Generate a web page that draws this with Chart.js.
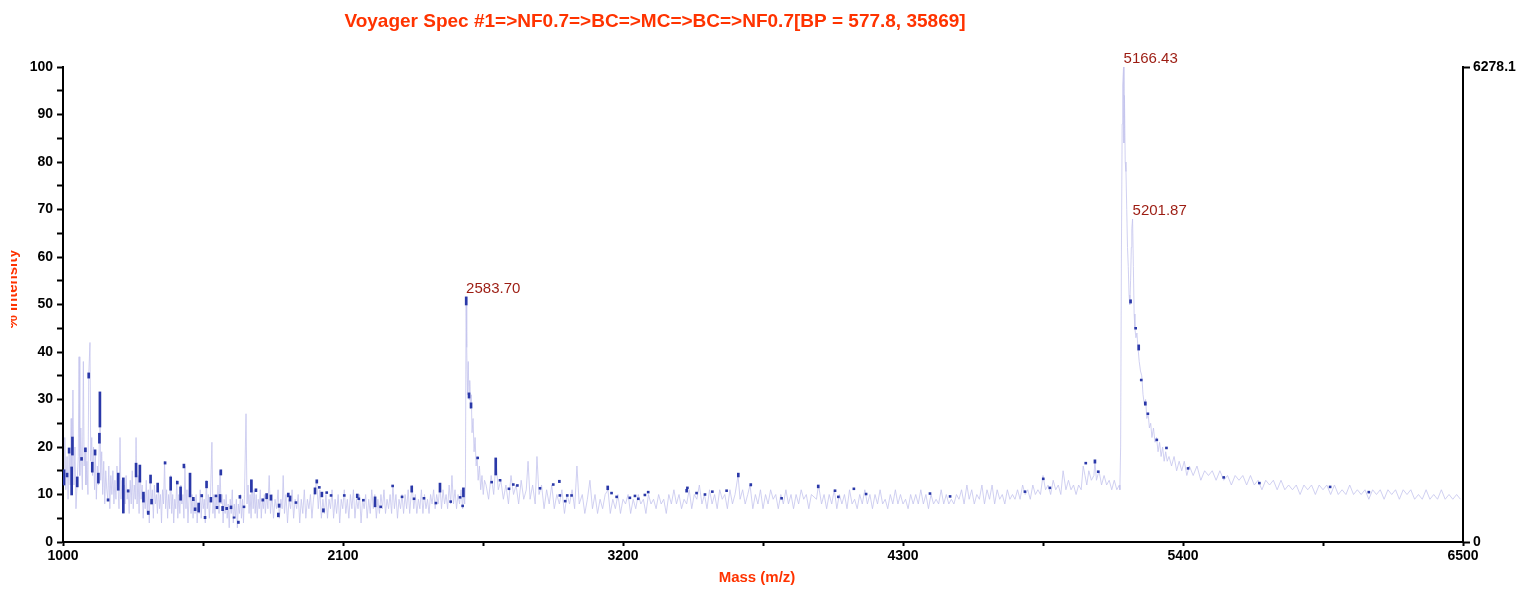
<!DOCTYPE html>
<html><head><meta charset="utf-8">
<script src="https://cdn.jsdelivr.net/npm/chart.js@4.4.1/dist/chart.umd.min.js"></script>
<style>html,body{margin:0;padding:0;background:#fff;}canvas{display:block;}</style>
</head><body>
<canvas id="c" width="1523" height="590"></canvas>
<script>
const chartTitle = 'Voyager Spec #1=>NF0.7=>BC=>MC=>BC=>NF0.7[BP = 577.8, 35869]';
const xTitle = 'Mass (m/z)';
const yTitle = '% Intensity';
const xTickValues = [1000,1550,2100,2650,3200,3750,4300,4850,5400,5950,6500];
const xLabelValues = [1000,2100,3200,4300,5400,6500];
const yTickValues = [0,5,10,15,20,25,30,35,40,45,50,55,60,65,70,75,80,85,90,95,100];
const yLabelValues = [0,10,20,30,40,50,60,70,80,90,100];
const rightTickValues = [0, 6278.1];
const rightTickLabels = ['0', '6278.1'];
const peakMasses = [2583.70, 5166.43, 5201.87];
const peakIntensities = [51.6, 100, 68];
const peakLabels = ['2583.70', '5166.43', '5201.87'];

// profile spectrum [mass, % intensity]
const spectrumLow = [
[1000,15],[1004,13],[1007,22],[1011,11],[1016,18],[1020,9],[1024,19],[1028,12],[1032,26],[1035,14],[1039,32],[1043,12],[1047,20],[1051,7],[1056,13],[1060,18],[1063,39],[1066,14],[1070,24],[1073,17],[1076,11],[1080,38],[1083,16],[1087,20],[1090,12],[1094,17],[1098,10],[1101,35],[1106,42],[1109,17],[1113,22],[1116,14],[1120,20],[1124,11],[1127,19],[1131,9],[1135,16],[1139,12],[1143,22],[1145,31],[1148,13],[1152,19],[1156,10],[1160,17],[1164,8],[1168,15],[1172,11],[1176,9],[1180,16],[1184,7],[1188,14],[1192,10],[1196,15],[1200,8],[1204,13],[1208,9],[1212,16],[1216,12],[1220,7],[1224,22],[1228,9],[1232,13],[1236,6],[1240,12],[1244,8],[1248,14],[1252,9],[1256,11],[1260,6],[1264,13],[1268,8],[1272,15],[1276,7],[1280,12],[1284,9],[1287,22],[1291,8],[1295,14],[1299,6],[1303,16],[1307,9],[1311,12],[1315,5],[1319,10],[1323,7],[1327,13],[1331,6],[1335,11],[1339,4],[1343,14],[1347,8],[1351,11],[1355,5],[1359,12],[1363,8],[1367,10],[1371,6],[1375,12],[1379,7],[1383,10],[1387,4],[1391,11],[1395,8],[1399,17],[1403,7],[1407,11],[1411,5],[1415,10],[1419,7],[1423,14],[1427,6],[1431,10],[1435,4],[1439,9],[1443,7],[1447,13],[1451,5],[1455,10],[1459,6],[1463,12],[1467,8],[1471,10],[1475,5],[1479,16],[1483,7],[1487,11],[1491,4],[1495,9],[1499,14],[1503,6],[1507,10],[1511,5],[1515,9],[1519,6],[1523,10],[1527,4],[1531,8],[1535,6],[1539,11],[1543,5],[1547,10],[1551,7],[1555,9],[1559,4],[1563,13],[1567,7],[1571,10],[1575,5],[1579,9],[1585,21],[1589,6],[1593,10],[1597,5],[1601,10],[1605,7],[1609,12],[1613,6],[1617,15],[1621,8],[1625,10],[1629,4],[1633,9],[1637,6],[1641,10],[1645,5],[1649,8],[1653,3],[1657,9],[1661,6],[1665,11],[1669,4],[1673,8],[1677,5],[1681,9],[1685,3],[1689,8],[1693,6],[1697,10],[1701,5],[1705,9],[1709,4],[1713,10],[1719,27],[1723,8],[1727,12],[1731,6],[1735,10],[1739,5],[1743,13],[1747,7],[1751,11],[1755,6],[1759,10],[1763,5],[1767,9],[1771,7],[1775,11],[1779,5],[1783,9],[1787,7],[1791,10],[1795,6],[1800,10]
];
const spectrumMid = [
[1805,7],[1810,14],[1815,6],[1821,10],[1827,5],[1833,9],[1839,7],[1845,11],[1850,5],[1856,9],[1861,7],[1865,14],[1870,6],[1876,10],[1882,4],[1888,9],[1894,7],[1900,11],[1906,5],[1912,9],[1918,7],[1924,10],[1930,4],[1936,9],[1942,6],[1948,11],[1954,5],[1960,9],[1966,7],[1972,10],[1978,5],[1984,9],[1990,11],[1997,13],[2003,7],[2009,11],[2015,5],[2021,9],[2027,6],[2033,10],[2039,5],[2045,9],[2051,7],[2057,11],[2063,5],[2069,9],[2075,6],[2081,10],[2087,4],[2093,9],[2099,7],[2105,11],[2111,6],[2117,9],[2123,5],[2129,10],[2135,7],[2141,11],[2147,5],[2153,9],[2159,7],[2165,10],[2171,4],[2177,9],[2183,7],[2189,10],[2195,5],[2201,9],[2207,6],[2213,11],[2219,7],[2225,10],[2231,5],[2237,9],[2243,6],[2249,10],[2255,7],[2261,11],[2267,6],[2273,9],[2279,7],[2285,10],[2291,6],[2296,12],[2302,7],[2308,10],[2314,5],[2320,9],[2326,7],[2332,10],[2338,6],[2344,10],[2350,7],[2356,11],[2362,6],[2368,10],[2372,12],[2378,7],[2384,10],[2390,6],[2396,9],[2402,7],[2408,11],[2414,6],[2420,10],[2426,7],[2432,9],[2438,6],[2444,10],[2450,8],[2456,11],[2462,7],[2468,10],[2474,8],[2481,12],[2487,7],[2493,11],[2499,8],[2505,10],[2511,7],[2517,12],[2523,8],[2528,14],[2534,8],[2540,11],[2546,7],[2552,10],[2558,8],[2564,11],[2570,7],[2574,11],[2578,8],
[2581,12],[2583.7,51.6],[2586,41],[2589,31],[2592,38],[2595,30],[2598,34],[2601,28],[2604,31],[2607,23],[2611,26],[2615,19],[2619,22],[2623,16],[2627,18],[2631,13],[2636,16],[2641,11],[2646,14],[2651,10],[2656,13],
[2662,12],[2672,9],[2682,14],[2692,10],[2701,17],[2710,11],[2720,13],[2730,9],[2740,12],[2750,8],[2760,14],[2770,10],[2780,12],[2790,8],[2800,13],[2810,9],[2820,11],[2827,17],[2835,9],[2845,12],[2855,8],[2862,18],[2870,10],[2880,12],[2890,7],[2900,11],[2910,8],[2920,12],[2930,7],[2940,10],[2950,8],[2960,11],[2970,6],[2980,10],[2990,8],[3000,11],[3010,7],[3019,16],[3028,8],[3040,10],[3050,6],[3060,9],[3070,13],[3080,7],[3090,10],[3100,6],[3110,9],[3120,7],[3130,10],[3141,11],[3150,6],[3160,9],[3170,7],[3180,10],[3190,6],[3200,9],[3210,8],[3220,10],[3230,6],[3240,9],[3250,7],[3260,10],[3270,8],[3280,9],[3290,6],[3300,10],[3310,8],[3320,9],[3330,7],[3340,10],[3350,8],[3360,9],[3370,6],[3380,10],[3390,8],[3400,11],[3410,8],[3420,10],[3430,7],[3440,9],[3450,8],[3460,11],[3470,7],[3480,10],[3490,9],[3500,12],[3510,8],[3520,10],[3530,7],[3540,11],[3550,8],[3560,10],[3570,7],[3580,11],[3590,9],[3600,10],[3610,7],[3620,11],[3630,8],[3640,10],[3652,14],[3660,9],[3670,11],[3680,8],[3690,10],[3699,12],[3710,7],[3720,10],[3730,8],[3740,11],[3750,7],[3760,10],[3770,8],[3780,11],[3790,9],[3800,10],[3810,7],[3820,10],[3830,8],[3840,11],[3850,8],[3860,10],[3870,7],[3880,10],[3890,8],[3900,11],[3910,9],[3920,10],[3930,7],[3940,10]
];
const spectrumHigh = [
[3960,9],[3968,12],[3980,8],[3990,10],[4000,7],[4010,10],[4020,8],[4030,11],[4040,7],[4050,10],[4060,8],[4070,10],[4080,7],[4090,11],[4100,8],[4110,9],[4120,7],[4130,10],[4140,8],[4150,11],[4160,8],[4170,10],[4180,7],[4190,10],[4200,8],[4210,11],[4220,8],[4230,9],[4240,7],[4250,10],[4260,8],[4270,11],[4280,8],[4290,10],[4300,8],[4310,9],[4320,7],[4330,10],[4340,8],[4350,10],[4360,8],[4370,11],[4380,8],[4390,10],[4400,7],[4410,10],[4420,8],[4430,9],[4440,8],[4450,11],[4460,8],[4470,10],[4480,8],[4490,9],[4500,8],[4510,10],[4520,9],[4530,11],[4540,8],[4551,12],[4560,9],[4570,11],[4580,8],[4590,10],[4600,9],[4610,12],[4620,8],[4630,11],[4640,9],[4650,12],[4660,8],[4670,11],[4680,9],[4690,10],[4700,8],[4710,11],[4720,9],[4730,10],[4740,9],[4750,11],[4760,9],[4770,12],[4780,10],[4790,11],[4800,9],[4810,12],[4820,10],[4830,11],[4840,10],[4850,14],[4860,11],[4870,12],[4880,10],[4890,13],[4900,11],[4910,12],[4920,10],[4929,15],[4940,11],[4950,13],[4960,11],[4970,12],[4980,10],[4990,12],[5000,11],[5008,16],[5015,14],[5022,12],[5030,15],[5040,13],[5050,14],[5054,17],[5060,13],[5070,15],[5080,12],[5090,14],[5100,12],[5110,13],[5120,11],[5130,13],[5140,11],[5150,12],
[5152,11],[5155,20],[5158,60],[5161,88],[5163,96],[5166.43,100],[5168,84],[5170,94],[5173,80],[5176,78],[5179,70],[5182,62],[5185,58],[5188,52],[5191,50],[5194,55],[5197,62],[5199,66],[5201.87,68],[5205,58],[5208,48],[5211,45],[5215,43],[5219,44],[5223,41],[5228,38],[5233,36],[5238,35],[5243,31],[5248,29],[5253,30],[5258,26],[5263,27],[5268,24],[5273,25],[5278,22],[5284,24],[5290,21],[5296,22],[5302,19],[5308,21],[5314,18],[5320,20],[5326,17],[5332,19],[5338,17],[5345,18],
[5355,16],[5365,18],[5375,15],[5385,17],[5395,15],[5405,17],[5415,14],[5425,16],[5440,14],[5455,16],[5470,13],[5485,15],[5500,14],[5515,15],[5530,13],[5545,15],[5560,13],[5575,14],[5590,12],[5605,14],[5620,13],[5635,14],[5650,12],[5665,14],[5680,12],[5695,13],[5710,11],[5725,13],[5740,12],[5755,13],[5770,11],[5785,13],[5800,11],[5815,12],[5830,11],[5845,12],[5860,10],[5875,12],[5890,11],[5905,12],[5920,10],[5935,12],[5950,11],[5965,12],[5980,10],[5995,12],[6010,10],[6025,11],[6040,10],[6055,12],[6070,10],[6085,11],[6100,10],[6115,11],[6130,9],[6145,11],[6160,10],[6175,11],[6190,9],[6205,11],[6220,10],[6235,11],[6250,9],[6265,11],[6280,10],[6295,11],[6310,9],[6325,10],[6340,9],[6355,11],[6370,9],[6385,10],[6400,9],[6415,11],[6430,9],[6445,10],[6460,9],[6475,10],[6490,9]
];
// centroid marks [mass, low %, high %]
const centroids = [
[1004,12.0,15.2],[1016,13.7,14.5],[1024,18.7,19.8],[1034,9.9,15.8],[1037,18.3,22.1],[1056,11.6,13.7],[1073,17.2,17.8],[1088,19,19.8],[1101,34.5,35.6],[1115,14.7,16.8],[1126,18.3,19.4],[1139,12.4,14.5],[1143,20.8,22.9],[1145,24.2,31.6],[1177,8.6,9.1],[1217,10.9,14.5],[1237,6.1,13.5],[1256,10.5,11],[1287,13.7,16.6],[1302,12.6,16.2],[1316,8.4,10.5],[1335,5.8,6.5],[1344,12.4,14.1],[1348,8,9],[1372,10.5,12.4],[1401,16.4,16.9],[1423,10.9,13.7],[1449,12.2,12.8],[1462,8.8,11.6],[1475,15.6,16.4],[1499,9.5,14.5],[1512,8.7,9.4],[1519,6.6,7.2],[1533,6.3,8.2],[1545,9.5,10],[1558,4.9,5.4],[1564,11.4,12.8],[1581,8.4,9.4],[1601,9.5,9.9],[1605,7,7.5],[1617,8.4,10],[1620,14.1,15.2],[1627,6.6,7.5],[1643,6.8,7.3],[1660,7,7.6],[1672,5,5.3],[1689,3.9,4.4],[1695,9.2,9.8],[1711,7.2,7.6],[1740,10.5,13.1],[1758,10.6,11.2],[1785,8.6,9.1],[1800,9.1,10.2],[1817,8.8,9.9],[1846,5.3,6.1],[1849,7.3,8],[1885,9.5,10.3],[1892,8.6,9.7],[1915,8.1,8.5],[1990,10.1,11.4],[1997,12.4,13.1],[2007,11.3,11.7],[2017,9.5,10.5],[2023,6.3,7],[2036,10.2,10.6],[2053,9.6,10],[2105,9.6,10],[2156,9.3,10.1],[2162,8.9,9.3],[2180,8.6,9],[2226,7.4,9.5],[2248,7.2,7.6],[2295,11.6,12],[2332,9.3,9.7],[2370,10.5,11.8],[2379,8.9,9.3],[2418,9,9.4],[2465,8,8.4],[2481,10.5,12.4],[2523,8.3,8.7],[2560,9.2,9.6],[2570,7.4,7.8],[2573,9.5,11.4],
[2584,49.9,51.6],[2595,30.3,31.4],[2603,28.2,29.3],[2629,17.5,17.9],[2684,12.4,12.8],[2700,14.1,17.7],[2717,12.8,13.2],[2752,11,11.4],[2769,11.9,12.3],[2785,11.7,12.1],[2874,11.1,11.5],[2926,11.9,12.3],[2950,12.5,13],[2952,9.6,10],[2973,8.4,8.8],[2981,9.6,10],[2998,9.6,10],[3140,11,11.8],[3155,10.1,10.5],[3175,9.3,9.7],[3227,9.1,9.5],[3247,9.5,9.9],[3260,8.9,9.3],[3286,9.7,10.1],[3299,10.3,10.7],[3450,10.5,11.1],[3453,11.2,11.6],[3489,10.1,10.5],[3522,9.8,10.2],[3551,10.4,10.8],[3607,10.6,11],[3653,13.7,14.5],[3702,11.8,12.3],[3823,9,9.4],[3967,11.4,12],[4033,10.6,11],[4046,9.3,9.7],[4107,11,11.4],[4155,9.9,10.3],[4406,10,10.4],[4485,9.4,9.8],[4779,10.4,10.8],[4851,13.1,13.5],[4877,11.2,11.6],[5018,16.4,16.8],[5054,16.6,17.3],[5067,14.6,15],
[5194,50.3,51],[5214,44.8,45.2],[5226,40.4,41.5],[5236,33.9,34.3],[5252,28.8,29.5],[5262,26.8,27.2],[5297,21.3,21.7],[5335,19.6,20],[5420,15.3,15.7],[5560,13.4,13.8],[5700,12.2,12.6],[5978,11.4,11.8],[6130,10.3,10.7]
];

const FONT = '"Liberation Sans", Arial, sans-serif';
const spectrum = spectrumLow.concat(spectrumMid, spectrumHigh);

const textPlugin = {
  id: 'textPlugin',
  afterDraw(chart) {
    const ctx = chart.ctx;
    const xs = chart.scales.x, ys = chart.scales.y;
    ctx.save();
    ctx.fillStyle = '#ff3300';
    ctx.font = 'bold 19px ' + FONT;
    ctx.textAlign = 'center';
    ctx.textBaseline = 'middle';
    ctx.fillText(chartTitle, 655, 22);
    ctx.font = 'bold 15px ' + FONT;
    ctx.fillText(xTitle, 757, 578);
    ctx.restore();
    // y title, partly clipped as in the original
    ctx.save();
    ctx.beginPath();
    ctx.rect(11, 0, 30, 590);
    ctx.clip();
    ctx.translate(16.5, 289);
    ctx.rotate(-Math.PI / 2);
    ctx.fillStyle = '#ff3300';
    ctx.font = 'bold 15px ' + FONT;
    ctx.textAlign = 'center';
    ctx.textBaseline = 'alphabetic';
    ctx.fillText(yTitle, 0, 0);
    ctx.restore();
    // peak labels
    ctx.save();
    ctx.fillStyle = '#9c1c12';
    ctx.font = '15px ' + FONT;
    ctx.textAlign = 'left';
    ctx.textBaseline = 'bottom';
    peakMasses.forEach((m, i) => {
      ctx.fillText(peakLabels[i], xs.getPixelForValue(m), ys.getPixelForValue(peakIntensities[i]) - 1);
    });
    ctx.restore();
  }
};

new Chart(document.getElementById('c'), {
  type: 'bar',
  data: {
    datasets: [
      {
        type: 'bar',
        data: centroids.map(c => ({x: c[0], y: [c[1], c[2]]})),
        backgroundColor: '#2a38a8',
        borderWidth: 0,
        barThickness: 2,
        yAxisID: 'y',
        order: 0
      },
      {
        type: 'line',
        data: spectrum.map(p => ({x: p[0], y: p[1]})),
        borderColor: 'rgba(196,196,238,0.8)',
        borderWidth: 1,
        pointRadius: 0,
        tension: 0,
        fill: false,
        yAxisID: 'y',
        order: 1
      }
    ]
  },
  options: {
    responsive: false,
    devicePixelRatio: 1,
    animation: false,
    layout: {padding: {top: 67, left: 0, right: 0, bottom: 0}},
    plugins: {legend: {display: false}, tooltip: {enabled: false}, title: {display: false}},
    scales: {
      x: {
        type: 'linear', min: 1000, max: 6500, offset: false, position: 'bottom',
        afterBuildTicks: s => { s.ticks = xTickValues.map(v => ({value: v})); },
        afterFit: s => { s.height = 48; },
        ticks: {autoSkip: false, maxRotation: 0, color: '#000', padding: 2,
          font: {family: FONT, weight: 'bold', size: 14},
          callback: v => xLabelValues.includes(v) ? String(v) : ''},
        grid: {offset: false, drawOnChartArea: false, drawTicks: true, tickLength: 4, tickColor: '#000', tickWidth: 2},
        border: {display: true, color: '#000', width: 2}
      },
      y: {
        type: 'linear', min: 0, max: 100, position: 'left',
        afterBuildTicks: s => { s.ticks = yTickValues.map(v => ({value: v})); },
        afterFit: s => { s.width = 63; },
        ticks: {autoSkip: false, color: '#000', padding: 4,
          font: {family: FONT, weight: 'bold', size: 14},
          callback: v => yLabelValues.includes(v) ? String(v) : ''},
        grid: {offset: false, drawOnChartArea: false, drawTicks: true, tickLength: 6, tickColor: '#000', tickWidth: 2},
        border: {display: true, color: '#000', width: 2}
      },
      y2: {
        type: 'linear', min: 0, max: 6278.1, position: 'right',
        afterBuildTicks: s => { s.ticks = rightTickValues.map(v => ({value: v})); },
        afterFit: s => { s.width = 60; },
        ticks: {autoSkip: false, color: '#000', padding: 3,
          font: {family: FONT, weight: 'bold', size: 14},
          callback: (v, i) => rightTickLabels[i]},
        grid: {offset: false, drawOnChartArea: false, drawTicks: true, tickLength: 7, tickColor: '#000', tickWidth: 2},
        border: {display: true, color: '#000', width: 2}
      }
    }
  },
  plugins: [textPlugin]
});
</script>
</body></html>
